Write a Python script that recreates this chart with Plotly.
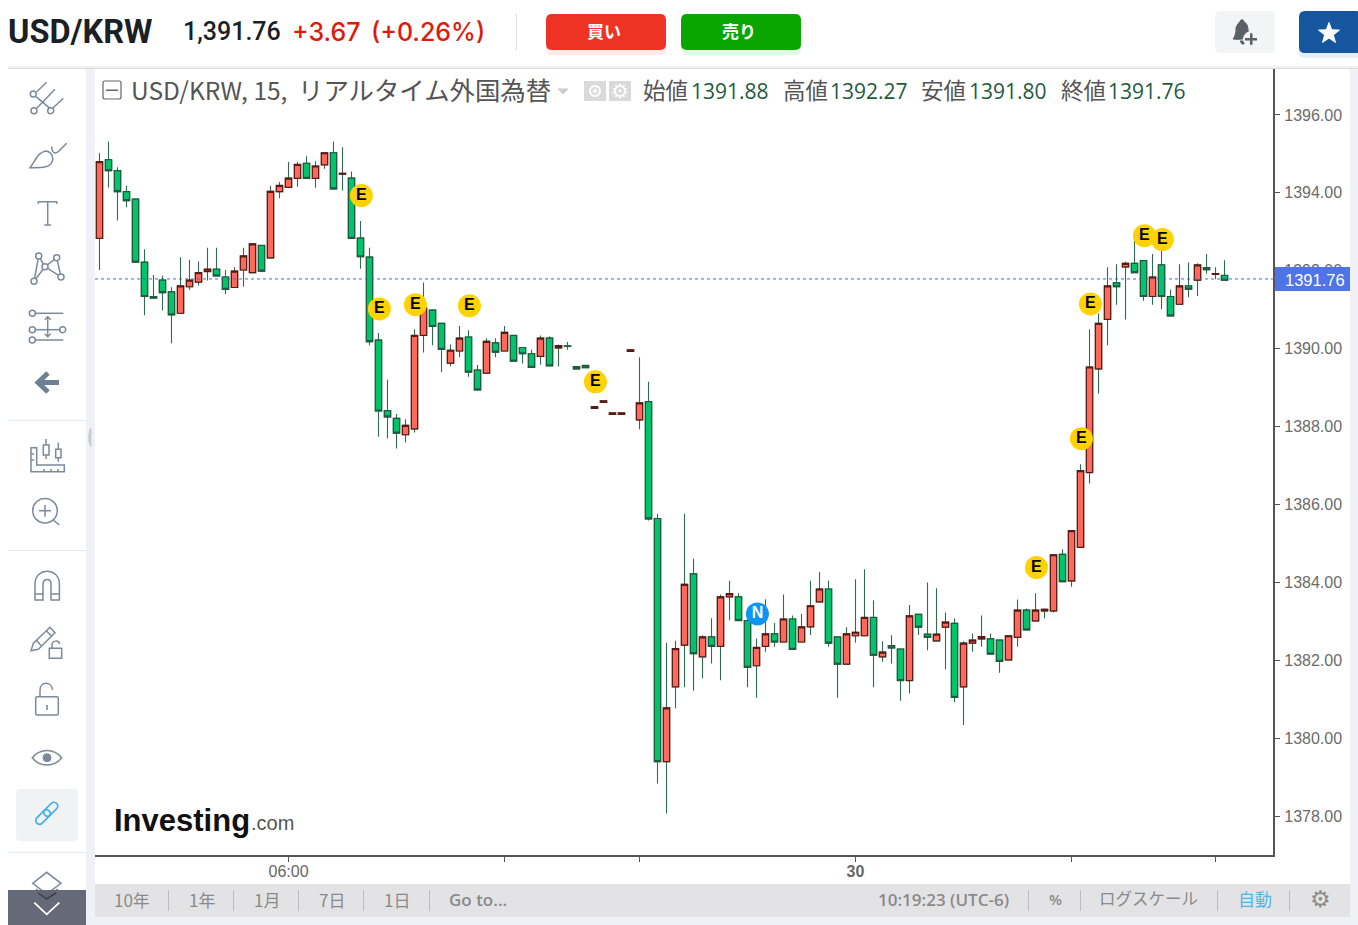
import math
import plotly.graph_objects as go

W, H = 1358, 925

opens = [1392.83,1394.85,1394.57,1394.03,1393.84,1392.22,1391.34,1391.76,1391.46,1390.91,
 1391.59,1391.71,1391.98,1392.04,1391.84,1391.57,1392.02,1391.95,1392.65,1392.33,
 1394.03,1394.14,1394.37,1394.76,1394.37,1394.72,1395.03,1394.48,1394.38,1392.84,
 1392.35,1390.22,1388.41,1388.21,1387.79,1387.94,1390.34,1390.99,1390.65,1389.63,
 1389.94,1390.30,1389.45,1389.37,1390.15,1389.94,1390.34,1390.03,1389.87,1389.80,
 1390.27,1390.02,1390.07,1389.54,1389.57,1388.47,1388.62,1388.31,1388.31,1389.93,
 1388.17,1388.64,1385.64,1379.40,1381.32,1382.39,1384.22,1382.09,1382.60,1382.36,
 1383.63,1383.63,1383.02,1381.86,1382.36,1382.68,1382.47,1383.06,1382.47,1382.86,
 1383.50,1383.83,1382.60,1381.90,1382.63,1382.63,1383.10,1382.09,1382.38,1382.29,
 1381.48,1383.18,1382.67,1382.50,1382.85,1382.95,1381.32,1382.44,1382.55,1382.55,
 1382.52,1382.01,1382.59,1383.29,1383.01,1383.27,1383.27,1384.72,1384.04,1384.90,
 1386.82,1389.48,1390.75,1391.69,1392.10,1392.19,1392.26,1391.34,1392.15,1391.34,
 1391.14,1391.61,1391.76,1392.08,1391.91,1391.88]
highs = [1395.02,1395.32,1394.66,1394.18,1393.85,1392.55,1391.89,1391.87,1391.58,1392.35,
 1392.28,1392.24,1392.59,1392.59,1392.02,1392.09,1392.59,1392.71,1392.65,1394.18,
 1394.28,1394.79,1394.79,1394.94,1394.81,1395.04,1395.32,1395.17,1394.55,1393.28,
 1392.59,1390.40,1389.20,1388.32,1388.19,1390.50,1391.70,1391.01,1390.65,1390.11,
 1390.58,1390.47,1389.58,1390.27,1390.27,1390.58,1390.34,1390.03,1389.97,1390.34,
 1390.32,1390.11,1390.17,1389.54,1389.57,1388.51,1388.66,1388.35,1388.35,1389.97,
 1389.78,1389.15,1385.76,1382.45,1382.50,1385.76,1384.61,1382.64,1383.08,1383.69,
 1384.04,1383.72,1383.08,1382.56,1383.57,1382.96,1383.69,1383.15,1383.19,1384.04,
 1384.27,1384.04,1382.60,1382.85,1384.08,1384.34,1383.54,1382.49,1382.64,1382.30,
 1383.42,1383.18,1384.00,1383.85,1383.23,1383.08,1382.49,1382.69,1383.15,1382.69,
 1382.52,1382.63,1383.56,1383.33,1383.72,1383.33,1384.71,1384.85,1385.33,1387.03,
 1390.50,1390.91,1392.09,1392.17,1392.23,1392.88,1392.26,1392.43,1392.53,1391.51,
 1392.17,1392.21,1392.19,1392.43,1392.09,1392.27]
lows = [1392.02,1394.14,1393.29,1393.63,1392.22,1390.86,1391.29,1390.98,1390.14,1390.91,
 1391.51,1391.62,1391.75,1391.87,1391.40,1391.57,1391.59,1391.95,1391.99,1392.33,
 1393.86,1394.14,1394.16,1394.37,1394.13,1394.62,1394.10,1394.06,1392.83,1392.05,
 1390.09,1387.74,1387.70,1387.44,1387.59,1387.85,1389.90,1390.09,1389.40,1389.55,
 1389.78,1389.28,1388.94,1389.37,1389.78,1389.94,1389.68,1389.62,1389.52,1389.59,
 1389.56,1389.54,1389.97,1389.48,1389.51,1388.47,1388.62,1388.31,1388.31,1389.93,
 1387.93,1385.59,1378.84,1378.07,1380.77,1381.31,1381.22,1381.54,1381.92,1381.49,
 1383.03,1383.02,1381.31,1381.04,1382.22,1382.35,1382.47,1382.28,1382.47,1382.65,
 1383.50,1382.35,1381.04,1381.90,1382.45,1382.63,1381.31,1381.96,1381.92,1380.96,
 1381.15,1382.65,1382.26,1382.50,1381.77,1380.92,1380.34,1382.22,1382.35,1382.16,
 1381.68,1382.01,1382.35,1382.78,1383.01,1383.08,1383.23,1384.02,1383.89,1384.90,
 1386.54,1388.85,1390.09,1391.13,1390.75,1391.95,1391.23,1391.13,1391.01,1390.84,
 1391.14,1391.32,1391.35,1391.93,1391.78,1391.76]
closes = [1394.80,1394.57,1394.03,1393.80,1392.22,1391.34,1391.30,1391.44,1390.87,1391.61,
 1391.76,1391.95,1392.04,1391.87,1391.52,1391.99,1392.38,1392.69,1391.99,1394.04,
 1394.19,1394.38,1394.73,1394.37,1394.69,1395.03,1394.10,1394.50,1392.83,1392.36,
 1390.18,1388.40,1388.25,1387.83,1388.03,1390.34,1391.04,1390.57,1389.98,1389.96,
 1390.27,1389.40,1388.94,1390.19,1389.91,1390.42,1389.68,1389.87,1389.52,1390.27,
 1389.56,1390.08,1390.06,1389.48,1389.51,1388.51,1388.66,1388.35,1388.35,1389.97,
 1388.61,1385.63,1379.40,1380.78,1382.30,1383.95,1382.17,1382.60,1382.36,1383.63,
 1383.71,1383.02,1381.82,1382.33,1382.68,1382.47,1383.06,1382.28,1382.86,1383.40,
 1383.83,1382.44,1381.90,1382.68,1382.72,1383.10,1382.13,1382.21,1382.32,1381.48,
 1383.14,1382.85,1382.59,1382.67,1382.98,1381.05,1382.44,1382.52,1382.61,1382.16,
 1381.97,1382.63,1383.29,1382.78,1383.29,1383.31,1384.71,1384.02,1385.33,1386.87,
 1389.53,1390.65,1391.61,1391.59,1392.19,1391.95,1391.34,1391.84,1391.34,1390.84,
 1391.61,1391.53,1392.15,1392.03,1391.93,1391.76]
candle_index = list(range(len(closes)))

event_x = [29.1, 31.1, 35.1, 41.1, 55.1, 104.1, 109.1, 110.1, 116.1, 118.1]
event_y = [1393.93, 1391.02, 1391.13, 1391.10, 1389.15, 1384.38, 1387.69, 1391.15, 1392.90, 1392.80]
news_x = [73.1]
news_y = [1383.19]

y_ticks = [1396, 1394, 1392, 1390, 1388, 1386, 1384, 1382, 1380, 1378]
x_tick_index = [21, 45, 60, 84, 108, 124]
x_tick_labels = ["06:00", "", "", "<b>30</b>", "", ""]
last_price_line = 1391.79

JP = "Noto Sans CJK JP"
AR = "Liberation Sans"
ICON = "#7a8a9a"


def fx(x):
    return x / W


def fy(y):
    return 1 - y / H


def rect(x0, y0, x1, y1, fill, line=None, lw=0):
    return dict(type="rect", xref="paper", yref="paper", x0=fx(x0), x1=fx(x1), y0=fy(y0), y1=fy(y1),
                fillcolor=fill, line=dict(color=line or fill, width=lw), layer="above")


def path(d, color=ICON, lw=1.5, fill="rgba(0,0,0,0)"):
    out, nums = [], []
    for tok in d.split():
        if tok.isalpha():
            out.append(tok)
        else:
            nums.append(float(tok))
            out.append(f"{fx(nums[-1]):.5f}" if len(nums) % 2 else f"{fy(nums[-1]):.5f}")
    return dict(type="path", xref="paper", yref="paper", path=" ".join(out),
                fillcolor=fill, line=dict(color=color, width=lw), layer="above")


def rrect(x0, y0, x1, y1, r, fill, line=None, lw=0):
    d = (f"M {x0+r} {y0} L {x1-r} {y0} Q {x1} {y0} {x1} {y0+r} L {x1} {y1-r} Q {x1} {y1} {x1-r} {y1} "
         f"L {x0+r} {y1} Q {x0} {y1} {x0} {y1-r} L {x0} {y0+r} Q {x0} {y0} {x0+r} {y0} Z")
    return path(d, color=line or fill, lw=lw, fill=fill)


def poly(pts, color=ICON, lw=1.5, close=False, fill="rgba(0,0,0,0)"):
    d = "M " + " L ".join(f"{x} {y}" for x, y in pts) + (" Z" if close else "")
    return path(d, color, lw, fill)


def circ(cx, cy, r, color=ICON, lw=1.5, fill="#ffffff"):
    return dict(type="circle", xref="paper", yref="paper", x0=fx(cx - r), x1=fx(cx + r),
                y0=fy(cy + r), y1=fy(cy - r), fillcolor=fill, line=dict(color=color, width=lw), layer="above")


def capsule(x1, y1, x2, y2, r, color, lw=1.6):
    # outline of a 45-degree chain link
    k = r * 0.7071
    e = r * 1.3
    d = (f"M {x1+k} {y1+k} L {x2+k} {y2+k} C {x2+k+e*0.7} {y2+k-e*0.7} {x2-k+e*0.7} {y2-k-e*0.7} {x2-k} {y2-k} "
         f"L {x1-k} {y1-k} C {x1-k-e*0.7} {y1-k+e*0.7} {x1+k-e*0.7} {y1+k+e*0.7} {x1+k} {y1+k} Z")
    return path(d, color, lw)


def txt(x, y, s, size, color, font=JP, anchor="left", weight=None):
    f = dict(family=font, size=size, color=color)
    if weight:
        f["weight"] = weight
    return dict(xref="paper", yref="paper", x=fx(x), y=fy(y), text=s, showarrow=False,
                xanchor=anchor, yanchor="middle", font=f)


star_pts = []
for k in range(10):
    rad = 11 if k % 2 == 0 else 4.6
    ang = -math.pi / 2 + k * math.pi / 5
    star_pts.append((round(1329 + rad * math.cos(ang), 2), round(33.5 + rad * math.sin(ang), 2)))

shapes = [
    rect(86, 69, 95, H, "#eff1f6"),
    rect(1350, 69, W, H, "#eff1f6"),
    rect(86, 917, W, H, "#eff1f6"),
    rect(95, 884, 1350, 917, "#e3e3e5"),
    rect(8, 66, W, 68, "#f1f1f1"),
    rect(8, 68, W, 69, "#dcdcdc"),
    # header buttons
    rrect(546, 17, 666, 55, 6, "rgba(238,50,36,0.10)"),
    rrect(546, 14, 666, 50, 6, "#ee3324"),
    rrect(681, 17, 801, 55, 6, "rgba(10,166,0,0.10)"),
    rrect(681, 14, 801, 50, 6, "#0aa600"),
    rect(516, 14, 517, 50, "#dddddd"),
    rrect(1215, 11, 1275, 53, 5, "#f3f4f6"),
    rrect(1299, 15, 1362, 58, 6, "rgba(26,91,168,0.10)"),
    rrect(1299, 11, 1362, 53, 6, "#15569f"),
    poly(star_pts, "#ffffff", 1, True, "#ffffff"),
    # bell with plus
    path("M 1233 39 C 1236 35 1236 31 1236 28 C 1237 24 1240 22 1241 20 C 1243 19 1244 21 1244 22 "
         "C 1247 23 1248 27 1248 30 C 1249 32 1250 34 1251 36 C 1245 39 1239 40 1233 39 Z", "#5a5f68", 1, "#5a5f68"),
    path("M 1240 41 L 1246 41 L 1244 44 L 1242 44 Z", "#5a5f68", 1, "#5a5f68"),
    circ(1251, 39, 7.5, "#f3f4f6", 1, "#f3f4f6"),
    rect(1245, 38, 1257, 40.5, "#5a5f68"),
    rect(1250, 33.3, 1252.5, 44.8, "#5a5f68"),
    # legend row widgets
    rrect(103, 81, 121, 99, 2, "#ffffff", "#666666", 1.2),
    rect(106, 89.5, 118, 91, "#666666"),
    poly([(558, 89), (568, 89), (563, 94)], "#cccccc", 1, True, "#cccccc"),
    rect(584, 81, 606, 101, "#dadada"),
    rect(609, 81, 631, 101, "#dadada"),
    circ(595, 91, 5, "#ffffff", 2, "#dadada"),
    circ(595, 91, 1.8, "#ffffff", 1, "#ffffff"),
    # sidebar separators
    rect(8, 420, 86, 421, "#e2ebf1"),
    rect(8, 550, 86, 551, "#e2ebf1"),
    rect(8, 852, 86, 853, "#e2ebf1"),
    # sidebar icon 1
    poly([(36.7, 91.7), (46.7, 82.3)]), poly([(36, 96.7), (50, 108.3)]),
    poly([(36.7, 108.3), (55, 89.3)]), poly([(52.7, 108.3), (63.3, 98.3)]),
    circ(33.3, 94, 3), circ(34, 110.7, 3), circ(50.7, 110.7, 3),
    # brush
    path("M 30 167.7 C 36 160 38 152 46 151 C 52 152 54 158 52 162 C 50 167 44 168 30 167.7 Z"),
    path("M 51.7 146.7 C 52 154 56 154 59 151 L 66.7 143.3"),
    # text tool
    poly([(38.3, 204), (38.3, 201.7), (56.7, 201.7), (56.7, 204)]),
    poly([(47.7, 201.7), (47.7, 225)]), poly([(44.3, 225), (51, 225)]),
    # pattern
    poly([(34, 281.3), (38.7, 256), (45, 266.7), (56.7, 257.7), (61, 277), (45, 266.7), (34, 281.3)]),
    circ(38.7, 256, 3), circ(56.7, 257.7, 3), circ(45, 266.7, 3), circ(34, 281.3, 3), circ(61, 277, 3),
    # fib
    poly([(32.3, 313.3), (63.3, 313.3)]), poly([(32.3, 329.7), (62.7, 329.7)]), poly([(32.3, 340), (63.3, 340)]),
    poly([(47.7, 316.7), (47.7, 336.7)]),
    poly([(44.7, 319.7), (47.7, 316.7), (50.7, 319.7)]), poly([(44.7, 333.7), (47.7, 336.7), (50.7, 333.7)]),
    circ(32.3, 313.3, 3), circ(32.3, 329.7, 3), circ(62.7, 329.7, 3), circ(32.3, 340, 3),
    # back arrow
    poly([(38, 382.5), (59, 382.5)], "#6d8094", 5), poly([(48, 373), (38, 382.5), (48, 392)], "#6d8094", 5),
    # ruler and candles
    poly([(31, 447.7), (36.7, 447.7), (36.7, 465), (64.3, 465), (64.3, 471.7), (31, 471.7)], close=True),
    poly([(31, 454), (34, 454)]), poly([(31, 460), (34, 460)]), poly([(44, 469), (44, 471.7)]),
    poly([(51, 469), (51, 471.7)]), poly([(58, 469), (58, 471.7)]),
    poly([(46, 439), (46, 459)]), rect(43.3, 445, 49, 455, "#ffffff", ICON, 1.5),
    poly([(58.3, 442.7), (58.3, 461.7)]), rect(55.7, 449.3, 61, 457.7, "#ffffff", ICON, 1.5),
    # zoom
    circ(45, 510.7, 12.3), poly([(54, 520.7), (59.3, 525)]), poly([(45, 505), (45, 516.7)]), poly([(39, 510.7), (51, 510.7)]),
    # magnet
    path("M 35 600 L 35 584 C 35 567 59.4 567 59.4 584 L 59.4 600 L 51 600 L 51 584 C 51 578 43 578 43 584 L 43 600 Z"),
    poly([(35, 594), (43, 594)]), poly([(51, 594), (59.4, 594)]),
    # pencil and lock
    poly([(33.3, 643.3), (50, 627.3), (55, 632.7), (38.3, 649.3), (31, 650.7)], close=True),
    poly([(36.5, 640.5), (41, 645.5)]), poly([(46.5, 631), (51.5, 636)]),
    rect(49.3, 648.3, 61.7, 658.3, "#ffffff", ICON, 1.5),
    path("M 52 648.3 L 52 645 C 52 640 59 640 59.5 644"),
    # unlock
    rrect(35.7, 696.7, 58.3, 715, 1.5, "#ffffff", ICON, 1.5),
    path("M 40 696.7 L 40 690 C 40 681 52 681 52.5 690"),
    rect(46.2, 705, 47.8, 710, ICON),
    # eye
    path("M 32.3 757.7 C 40 748 54 748 61.7 757.7 C 54 767.5 40 767.5 32.3 757.7 Z"),
    circ(47, 757.7, 4, ICON, 1, ICON),
    # link
    rrect(16, 789, 78, 841, 4, "#f1f2f4"),
    capsule(39.5, 820.5, 46.5, 813.5, 3.8, "#3fb0e8"),
    capsule(47.5, 812.5, 54, 806, 3.8, "#3fb0e8"),
    # layers and collapse band
    poly([(36, 889), (46.7, 897), (58, 889)], "#7a8a9a", 1.5),
    poly([(32.7, 883.3), (46.7, 872.3), (61, 883.3), (46.7, 894)], close=True, fill="#ffffff"),
    rect(8, 890, 86, H, "rgba(90,94,110,0.93)"),
    poly([(38, 893), (46.7, 899), (56, 893)], "#3e4150", 1.5),
    poly([(34.3, 902.7), (46.7, 914.3), (59.3, 902.7)], "#ffffff", 1.8),
    path("M 91 428 C 88 432 88 442 91 447 Z", "#cccccc", 1, "#cccccc"),
    # bottom toolbar dividers
    *[rect(x, 890, x + 1, 911, "#bdbdbd") for x in (168, 233, 298, 363, 429, 1028, 1080, 1217, 1289)],
    # last price line
    dict(type="line", xref="paper", yref="y", x0=fx(95), x1=fx(1274), y0=last_price_line, y1=last_price_line,
         line=dict(color="#3f66f5", width=1, dash="dot"), layer="above"),
    rect(1275, 267, 1350, 291, "#4f73e8"),
]

annotations = [
    txt(6, 32, "USD/KRW", 32.5, "#1b1f26", "Roboto", weight=700),
    txt(181, 32, "1,391.76", 25, "#1b1f26", "Roboto", weight=500),
    txt(290, 32, "+3.67", 25, "#e01a0a", "Inter", weight=500),
    txt(369, 32, "(+0.26%)", 25, "#e01a0a", "Inter", weight=500),
    txt(604, 31, "買い", 17, "#ffffff", JP, "center", 700),
    txt(739, 31, "売り", 17, "#ffffff", JP, "center", 700),
    txt(129, 89, "USD/KRW, 15,", 24.5, "#555555"),
    txt(296, 89, "リアルタイム外国為替", 25.4, "#555555"),
    txt(620, 91, "⚙", 20, "#ffffff", "DejaVu Sans", "center"),
    txt(641, 89, "始値", 22.5, "#555555"), txt(689, 91, "1391.88", 21, "#1e5b3f", "Open Sans"),
    txt(781, 89, "高値", 22.5, "#555555"), txt(828, 91, "1392.27", 21, "#1e5b3f", "Open Sans"),
    txt(919, 89, "安値", 22.5, "#555555"), txt(967, 91, "1391.80", 21, "#1e5b3f", "Open Sans"),
    txt(1059, 89, "終値", 22.5, "#555555"), txt(1106, 91, "1391.76", 21, "#1e5b3f", "Open Sans"),
    txt(1314.5, 279.5, "1391.76", 16.5, "#ffffff", AR, "center"),
    txt(112, 820, "Investing", 31, "#111111", AR, weight=700),
    txt(249, 823, ".com", 20, "#555555", AR),
    txt(132, 899, "10年", 17, "#8a8a8a", JP, "center"),
    txt(202, 899, "1年", 17, "#8a8a8a", JP, "center"),
    txt(267, 899, "1月", 17, "#8a8a8a", JP, "center"),
    txt(332, 899, "7日", 17, "#8a8a8a", JP, "center"),
    txt(397, 899, "1日", 17, "#8a8a8a", JP, "center"),
    txt(447, 899, "Go to...", 17, "#8a8a8a", "Open Sans", weight=600),
    txt(876, 899, "10:19:23 (UTC-6)", 17, "#8a8a8a", "Open Sans", weight=600),
    txt(1055, 899, "%", 15, "#8a8a8a", "Open Sans", "center", 600),
    txt(1097, 898, "ログスケール", 16.5, "#8a8a8a"),
    txt(1255, 898, "自動", 17, "#4db6e8", JP, "center"),
    txt(1320, 899, "⚙", 23, "#8a8a8a", "DejaVu Sans", "center"),
]

body_low = [min(o, c) for o, c in zip(opens, closes)]
body_high = [max(o, c) for o, c in zip(opens, closes)]

fig = go.Figure()
# wicks: always dark green in the reference
fig.add_trace(go.Candlestick(
    x=candle_index, open=opens, high=highs, low=lows, close=closes, whiskerwidth=0,
    increasing=dict(line=dict(color="#2f6b50", width=1.1), fillcolor="#ff695c"),
    decreasing=dict(line=dict(color="#2f6b50", width=1.1), fillcolor="#00c46c"),
    hoverinfo="skip", showlegend=False))
# bodies with their own border colours
fig.add_trace(go.Candlestick(
    x=candle_index, open=opens, high=body_high, low=body_low, close=closes, whiskerwidth=0,
    increasing=dict(line=dict(color="#5c1a14", width=1.2), fillcolor="#ff695c"),
    decreasing=dict(line=dict(color="#1e5b3f", width=1.2), fillcolor="#00c46c"),
    hoverinfo="skip", showlegend=False))
fig.add_trace(go.Scatter(
    x=event_x, y=event_y, mode="markers+text", text=["E"] * len(event_x), textposition="middle center",
    marker=dict(size=23, color="#ffd200", line=dict(width=0)),
    textfont=dict(family=AR, size=16, color="#000000", weight=700), hoverinfo="skip", showlegend=False))
fig.add_trace(go.Scatter(
    x=news_x, y=news_y, mode="markers+text", text=["N"], textposition="middle center",
    marker=dict(size=23, color="#0a96f5", line=dict(width=0)),
    textfont=dict(family=AR, size=16, color="#ffffff", weight=700), hoverinfo="skip", showlegend=False))

fig.update_layout(
    width=W, height=H, margin=dict(l=0, r=0, t=0, b=0), paper_bgcolor="#ffffff", plot_bgcolor="#ffffff",
    showlegend=False, boxgap=0.3, boxgroupgap=0, boxmode="overlay", shapes=shapes, annotations=annotations,
    xaxis=dict(domain=[95 / W, 1273.3 / W], range=[-0.5, 130.42], rangeslider=dict(visible=False),
               tickmode="array", tickvals=x_tick_index, ticktext=x_tick_labels, ticks="outside", ticklen=5,
               tickcolor="#555555", tickwidth=1, showgrid=False, zeroline=False, showline=True,
               linecolor="#555555", linewidth=1.5, tickfont=dict(family=AR, size=16, color="#666666"),
               ticklabelstandoff=-4, anchor="y"),
    yaxis=dict(domain=[1 - 855.3 / H, 1 - 69 / H], range=[1376.994, 1397.18], side="right",
               tickmode="array", tickvals=y_ticks, ticktext=[f"{v:.2f}" for v in y_ticks], ticks="outside",
               ticklen=5, tickcolor="#555555", tickwidth=1, showgrid=False, zeroline=False, showline=True,
               linecolor="#555555", linewidth=1.5, tickfont=dict(family=AR, size=16, color="#6b6b6b"),
               ticklabelstandoff=1, anchor="x"),
)

fig.write_html("out.html", config=dict(displayModeBar=False),
               post_script="document.body.style.margin='0';document.body.style.overflow='hidden';")
